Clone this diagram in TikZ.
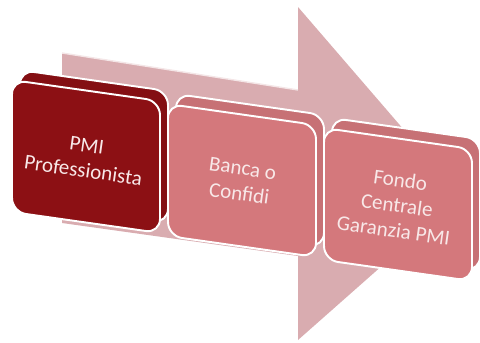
\documentclass[tikz,border=0pt]{standalone}
\usepackage{fontspec}
\setmainfont{Carlito}
\usepackage{tikz}
\definecolor{scuro}{RGB}{140,16,20}
\definecolor{rosa}{RGB}{212,120,124}
\definecolor{freccia}{RGB}{217,172,176}
\definecolor{testo}{RGB}{248,232,232}
\tikzset{faccia/.style={draw=white,line width=1.1pt,rounded corners=8pt},
  etichetta/.style={text=testo,align=center,rotate=-8,font=\fontsize{12}{14.5}\selectfont}}
\newcommand{\blocco}[3]{%
  \draw[faccia,fill=#3!94!black] (#1+8,#2-10)--++(148,21)--++(0,132)--++(-148,-21)--cycle;%後ろ
  \draw[faccia,fill=#3] (#1,#2)--++(148,21)--++(0,132)--++(-148,-21)--cycle;%前
}

\begin{document}
\begin{tikzpicture}[x=0.02cm,y=-0.02cm]
  \useasboundingbox (0,0) rectangle (480,342);
  \coordinate (F1) at (62,53);
  \coordinate (F2) at (298,90);
  \coordinate (F3) at (298,7);
  \coordinate (tip) at (461,196);
  \coordinate (F5) at (298,340);
  \coordinate (F6) at (298,256);
  \coordinate (F7) at (62,223);
  \fill[freccia] (F1)--(F2)--(F3)--(tip)--(F5)--(F6)--(F7)--cycle;%矢印
  \draw[white!70!freccia,line width=0.8pt] (F1)--(F2);

  \blocco{12}{80}{scuro}
  \blocco{168}{104}{rosa}
  \blocco{324}{128}{rosa}

  \node[etichetta] (pmi) at (85,158) {PMI\\Professionista};
  \node[etichetta] (banca) at (241,181) {Banca o\\Confidi};
  \node[etichetta] (fondo) at (397,205) {Fondo\\Centrale\\Garanzia PMI};
\end{tikzpicture}
\end{document}
